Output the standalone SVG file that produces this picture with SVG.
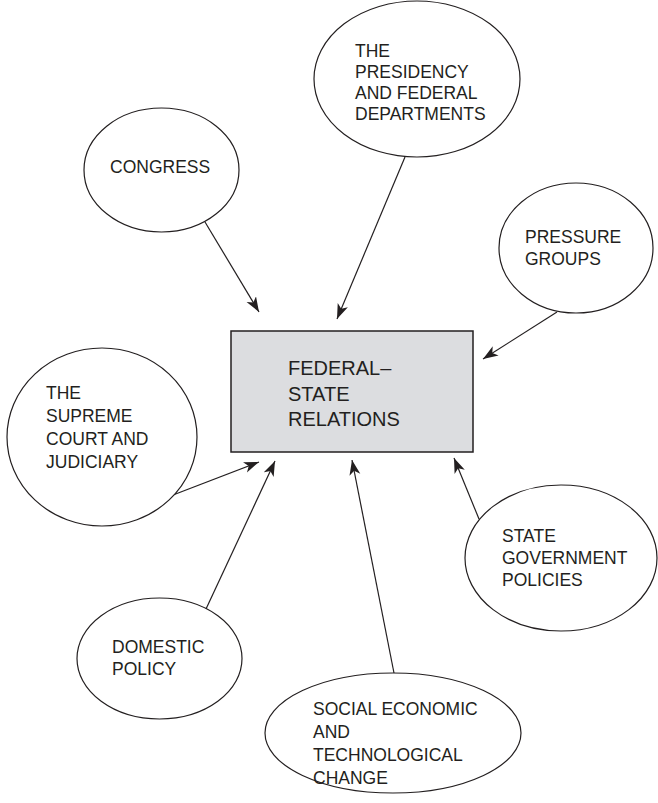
<svg xmlns="http://www.w3.org/2000/svg" width="658" height="803" viewBox="0 0 658 803">
<defs>
<marker id="ah" markerUnits="userSpaceOnUse" markerWidth="16" markerHeight="12" refX="15" refY="5.5" orient="auto">
<path d="M0,0 L15,5.5 L0,11 L4,5.5 z" fill="#231f20"/>
</marker>
<style>
.n{fill:#fff;stroke:#231f20;stroke-width:1.2}
.c{fill:#dcdde0;stroke:#231f20;stroke-width:1.5}
.t{font-family:"Liberation Sans",Arial,sans-serif;font-size:17.5px;fill:#231f20}
.tc{font-family:"Liberation Sans",Arial,sans-serif;font-size:20px;fill:#231f20}
.e{stroke:#231f20;stroke-width:1.2;fill:none;marker-end:url(#ah)}
</style>
</defs>
<rect width="658" height="803" fill="#fff"/>
<g id="connectors">
<line class="e" x1="205" y1="222" x2="259" y2="312"/>
<line class="e" x1="405" y1="157" x2="337" y2="319"/>
<line class="e" x1="557" y1="312" x2="483" y2="359"/>
<line class="e" x1="173" y1="495" x2="259" y2="462"/>
<line class="e" x1="206" y1="609" x2="275" y2="461"/>
<line class="e" x1="394" y1="673" x2="352" y2="460"/>
<line class="e" x1="479" y1="519" x2="454" y2="458"/>
</g>
<g id="center">
<rect class="c" x="231" y="331" width="242" height="121"/>
<text class="tc" x="288" y="375">FEDERAL–</text>
<text class="tc" x="288" y="401">STATE</text>
<text class="tc" x="288" y="426">RELATIONS</text>
</g>
<g id="presidency">
<ellipse class="n" cx="417" cy="79" rx="103" ry="78"/>
<text class="t" x="355" y="57">THE</text>
<text class="t" x="355" y="78">PRESIDENCY</text>
<text class="t" x="355" y="99">AND FEDERAL</text>
<text class="t" x="355" y="120">DEPARTMENTS</text>
</g>
<g id="congress">
<ellipse class="n" cx="161.5" cy="170" rx="77.5" ry="62"/>
<text class="t" x="110" y="173">CONGRESS</text>
</g>
<g id="pressure">
<ellipse class="n" cx="576" cy="248" rx="77" ry="65"/>
<text class="t" x="525" y="243">PRESSURE</text>
<text class="t" x="525" y="265">GROUPS</text>
</g>
<g id="supreme">
<ellipse class="n" cx="102" cy="437" rx="95" ry="89"/>
<text class="t" x="46" y="399">THE</text>
<text class="t" x="46" y="422">SUPREME</text>
<text class="t" x="46" y="445">COURT AND</text>
<text class="t" x="46" y="468">JUDICIARY</text>
</g>
<g id="state">
<ellipse class="n" cx="561" cy="558" rx="96" ry="73"/>
<text class="t" x="502" y="542">STATE</text>
<text class="t" x="502" y="564">GOVERNMENT</text>
<text class="t" x="502" y="586">POLICIES</text>
</g>
<g id="domestic">
<ellipse class="n" cx="159.5" cy="658.5" rx="82.5" ry="60.5"/>
<text class="t" x="112" y="653">DOMESTIC</text>
<text class="t" x="112" y="675">POLICY</text>
</g>
<g id="social">
<ellipse class="n" cx="393" cy="733" rx="128" ry="60"/>
<text class="t" x="313" y="715">SOCIAL ECONOMIC</text>
<text class="t" x="313" y="738">AND</text>
<text class="t" x="313" y="761">TECHNOLOGICAL</text>
<text class="t" x="313" y="784">CHANGE</text>
</g>
</svg>
